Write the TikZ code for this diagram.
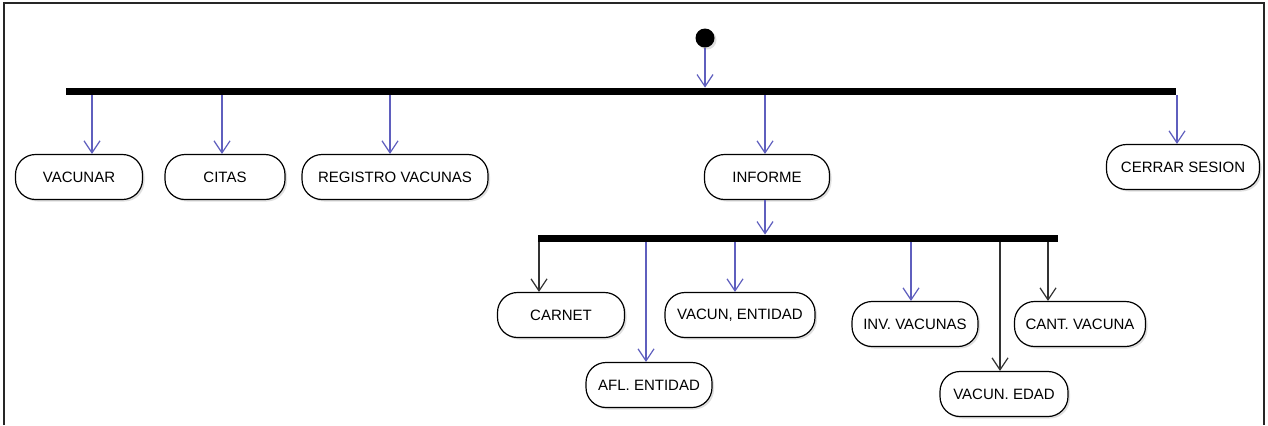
\documentclass[tikz,border=0pt]{standalone}
\usepackage{fontspec}
\setmainfont{Liberation Sans}
\usetikzlibrary{arrows.meta,shadows}
\definecolor{flowblue}{RGB}{95,95,190}
\tikzset{
  act/.style={draw,rounded corners=10pt,minimum height=22.5pt,fill=white,line width=0.6pt,
    font=\fontsize{7.5}{9}\selectfont,
    drop shadow={shadow xshift=1pt,shadow yshift=-1pt,opacity=0.25}},
  forkbar/.style={fill=black,inner sep=0pt,minimum height=3.5pt},
  bflow/.style={draw=flowblue,line width=0.6pt,-{Straight Barb[length=6pt,width=8pt]}},
  kflow/.style={draw=black!80,line width=0.6pt,-{Straight Barb[length=6pt,width=8pt]}}
}
\begin{document}
\begin{tikzpicture}[x=0.5pt,y=-0.5pt]
\useasboundingbox (0,0) rectangle (1268,425);
\draw[line width=1.4pt,black!85] (4,425) -- (4,3) -- (1264,3) -- (1264,425);

\node[circle,fill=black,inner sep=0pt,minimum size=9.5pt,drop shadow={shadow xshift=1pt,shadow yshift=-1pt,opacity=0.25}] (start) at (705,38) {};
\node[forkbar,minimum width=555pt] (fork1) at (621,91.5) {};

\node[act,minimum width=63.5pt] (vacunar) at (79,177) {VACUNAR};
\node[act,minimum width=60pt] (citas) at (225,177) {CITAS};
\node[act,minimum width=93pt] (registro) at (395,177) {REGISTRO VACUNAS};
\node[act,minimum width=62.5pt] (informe) at (767,177) {INFORME};
\node[act,minimum width=76.5pt] (cerrar) at (1183,167) {CERRAR SESION};

\node[forkbar,minimum width=260pt] (fork2) at (798,238.5) {};

\node[act,minimum width=63.5pt] (carnet) at (561,315) {CARNET};
\node[act,minimum width=63pt] (afl) at (649,385) {AFL. ENTIDAD};
\node[act,minimum width=75pt] (vacent) at (740,315) {VACUN, ENTIDAD};
\node[act,minimum width=63pt] (inv) at (915,324) {INV. VACUNAS};
\node[act,minimum width=65.5pt] (cant) at (1080,324) {CANT. VACUNA};
\node[act,minimum width=64pt] (edad) at (1004,394) {VACUN. EDAD};

\draw[bflow] (start) -- (start |- fork1.north);
\draw[bflow] (fork1.south -| 92,0) -- (vacunar.north -| 92,0);
\draw[bflow] (fork1.south -| 222,0) -- (citas.north -| 222,0);
\draw[bflow] (fork1.south -| 390,0) -- (registro.north -| 390,0);
\draw[bflow] (fork1.south -| 765,0) -- (informe.north -| 765,0);
\draw[bflow] (fork1.south -| 1177,0) -- (cerrar.north -| 1177,0);

\draw[bflow] (informe.south -| 765,0) -- (fork2.north -| 765,0);

\draw[kflow] (fork2.south -| 539,0) -- (carnet.north -| 539,0);
\draw[bflow] (fork2.south -| 646,0) -- (afl.north -| 646,0);
\draw[bflow] (fork2.south -| 735,0) -- (vacent.north -| 735,0);
\draw[bflow] (fork2.south -| 911,0) -- (inv.north -| 911,0);
\draw[kflow] (fork2.south -| 1000,0) -- (edad.north -| 1000,0);
\draw[kflow] (fork2.south -| 1048,0) -- (cant.north -| 1048,0);

\end{tikzpicture}
\end{document}
